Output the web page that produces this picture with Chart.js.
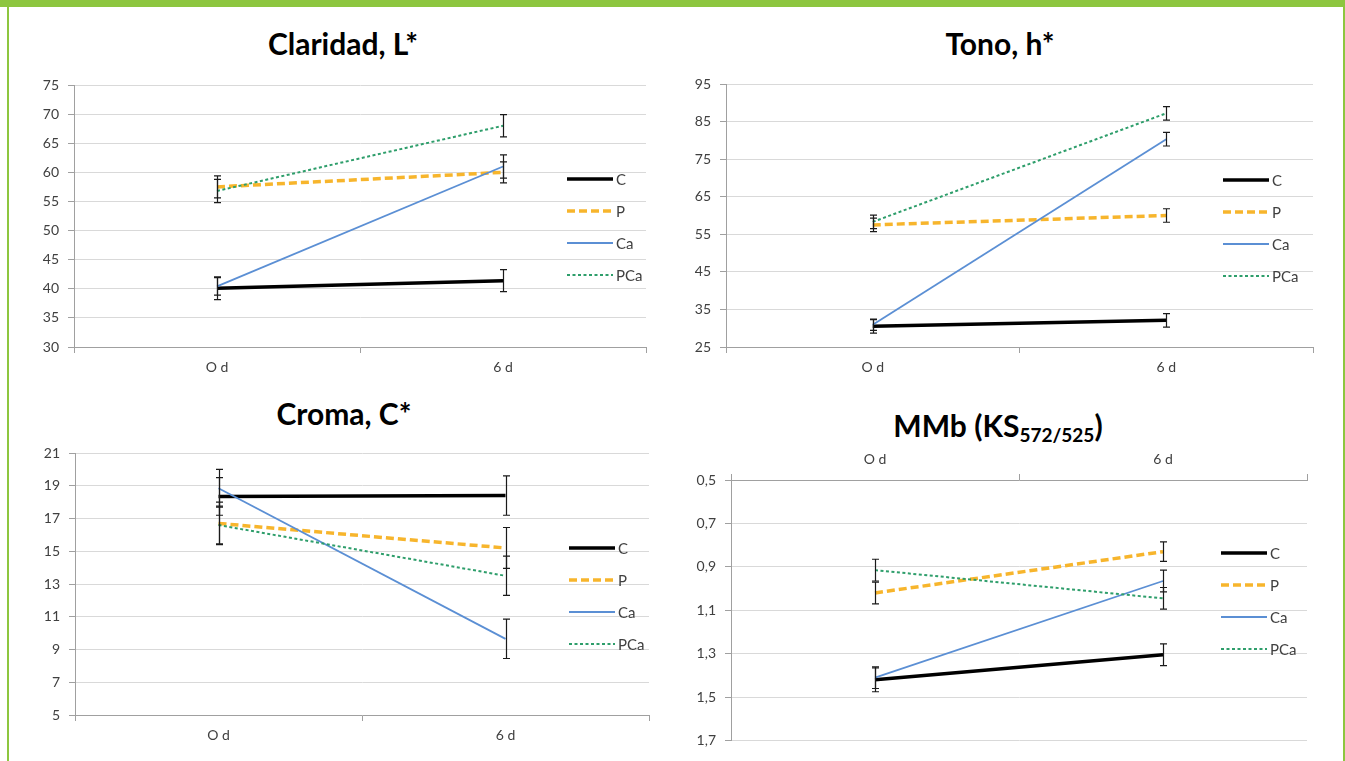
<!DOCTYPE html>
<html>
<head>
  <title>Color parameters</title>
  <script src="https://cdn.jsdelivr.net/npm/chart.js"></script>
  <style>
    body { margin: 0; width: 1345px; height: 761px; background: #fff; position: relative; overflow: hidden; font-family: Lato, sans-serif; }
    .bar { position: absolute; background: #8dc63f; }
    .title { position: absolute; width: 420px; text-align: center; font: bold 30px Lato, sans-serif; line-height: 36px; color: #000; }
    .title sub { font-size: 19px; vertical-align: -5px; line-height: 0; }
    canvas { position: absolute; }
  </style>
</head>
<body>
  <div class="bar" style="left:0; top:0; width:1345px; height:7px;"></div>
  <div class="bar" style="left:7px; top:0; width:2px; height:761px;"></div>
  <div class="bar" style="left:1343px; top:0; width:2px; height:761px;"></div>

  <div class="title" style="left:133px; top:25px;">Claridad, L*</div>
  <div class="title" style="left:790px; top:25px;">Tono, h*</div>
  <div class="title" style="left:134px; top:395px;">Croma, C*</div>
  <div class="title" style="left:788px; top:407px;">MMb (KS<sub>572/525</sub>)</div>

  <canvas id="c1" width="660" height="323" style="left:10px; top:62px;"></canvas>
  <canvas id="c2" width="665" height="323" style="left:675px; top:62px;"></canvas>
  <canvas id="c3" width="660" height="323" style="left:10px; top:435px;"></canvas>
  <canvas id="c4" width="665" height="318" style="left:675px; top:440px;"></canvas>

  <script>
    // categories and series
    const days = ['O d', '6 d'];
    const seriesNames = ['C', 'P', 'Ca', 'PCa'];

    // Claridad, L*
    const lC = [40.1, 41.4],   lCErr = [1.95, 1.9];
    const lP = [57.5, 60.0],   lPErr = [1.9, 1.8];
    const lCa = [40.4, 61.0],  lCaErr = [1.5, 2.0];
    const lPCa = [56.8, 68.0], lPCaErr = [2.0, 1.9];

    // Tono, h*
    const hC = [30.5, 32.1],   hCErr = [1.8, 1.8];
    const hP = [57.5, 60.0],   hPErr = [1.8, 1.8];
    const hCa = [30.9, 80.3],  hCaErr = [1.5, 1.8];
    const hPCa = [58.3, 87.2], hPCaErr = [1.8, 1.8];

    // Croma, C*
    const cC = [18.35, 18.4],  cCErr = [1.15, 1.2];
    const cP = [16.7, 15.2],   cPErr = [1.3, 1.25];
    const cCa = [18.85, 9.65], cCaErr = [1.15, 1.2];
    const cPCa = [16.6, 13.5], cPCaErr = [1.15, 1.2];

    // MMb (KS572/525)
    const mC = [1.42, 1.305],  mCErr = [0.055, 0.05];
    const mP = [1.02, 0.83],   mPErr = [0.05, 0.045];
    const mCa = [1.41, 0.965], mCaErr = [0.05, 0.05];
    const mPCa = [0.915, 1.045], mPCaErr = [0.05, 0.05];

    // line look of each series: C, P, Ca, PCa
    const lineColors = ['#000000', '#f7b52c', '#5b8fd4', '#2e9e6b'];
    const lineWidths = [3.5, 3.5, 1.8, 2];
    const lineDashes = [[], [8, 4], [], [3, 2.5]];

    const tickFont = { family: 'Lato', size: 14 };
    const axisGray = '#a0a0a0';

    // error bars drawn from the y scale
    const errorBars = {
      id: 'errorBars',
      afterDatasetsDraw(chart) {
        const ctx = chart.ctx;
        const yScale = chart.scales.y;
        ctx.save();
        ctx.strokeStyle = '#1a1a1a';
        ctx.lineWidth = 1.2;
        chart.data.datasets.forEach((ds, i) => {
          const meta = chart.getDatasetMeta(i);
          meta.data.forEach((pt, j) => {
            const e = ds.errors[j];
            const y1 = yScale.getPixelForValue(ds.data[j] - e);
            const y2 = yScale.getPixelForValue(ds.data[j] + e);
            const x = Math.round(pt.x) + 0.5;
            ctx.beginPath();
            ctx.moveTo(x, y1); ctx.lineTo(x, y2);
            ctx.moveTo(x - 3.5, y1); ctx.lineTo(x + 3.5, y1);
            ctx.moveTo(x - 3.5, y2); ctx.lineTo(x + 3.5, y2);
            ctx.stroke();
          });
        });
        ctx.restore();
      }
    };

    // legend that sits inside the plot, like the spreadsheet one
    const sideLegend = {
      id: 'sideLegend',
      afterDraw(chart, args, opts) {
        const ctx = chart.ctx;
        ctx.save();
        chart.data.datasets.forEach((ds, i) => {
          const y = opts.y + i * 32;
          ctx.beginPath();
          ctx.setLineDash(ds.borderDash || []);
          ctx.strokeStyle = ds.borderColor;
          ctx.lineWidth = ds.borderWidth;
          ctx.moveTo(opts.x, y);
          ctx.lineTo(opts.x + 46, y);
          ctx.stroke();
          ctx.setLineDash([]);
          ctx.fillStyle = '#404040';
          ctx.font = '15px Lato';
          ctx.textBaseline = 'middle';
          ctx.fillText(ds.label, opts.x + 49, y + 1);
        });
        ctx.restore();
      }
    };

    function makeDatasets(values, errs) {
      return values.map((v, i) => ({
        label: seriesNames[i],
        data: v,
        errors: errs[i],
        borderColor: lineColors[i],
        backgroundColor: lineColors[i],
        borderWidth: lineWidths[i],
        borderDash: lineDashes[i],
        pointRadius: 0,
        tension: 0,
        order: 4 - i
      }));
    }

    // canvas: page rect of the canvas, area: page rect of the plot
    function makeChart(id, canvasBox, area, values, errs, yOpts, xTop, legendPos, fmt) {
      const xHeight = xTop ? area.top - canvasBox.top : canvasBox.bottom - area.bottom;
      new Chart(document.getElementById(id), {
        type: 'line',
        data: { labels: days, datasets: makeDatasets(values, errs) },
        options: {
          responsive: false,
          animation: false,
          devicePixelRatio: 1,
          layout: {
            padding: {
              left: 0,
              right: canvasBox.right - area.right,
              top: xTop ? 0 : area.top - canvasBox.top,
              bottom: xTop ? canvasBox.bottom - area.bottom : 0
            }
          },
          plugins: {
            legend: { display: false },
            tooltip: { enabled: false },
            sideLegend: { x: legendPos[0] - canvasBox.left, y: legendPos[1] - canvasBox.top }
          },
          scales: {
            x: {
              position: xTop ? 'top' : 'bottom',
              offset: true,
              grid: { offset: true, drawOnChartArea: false, drawTicks: true, tickLength: 6, tickColor: axisGray },
              border: { color: axisGray },
              ticks: { font: tickFont, color: '#404040', padding: 6, maxRotation: 0 },
              afterFit(s) { s.height = xHeight; }
            },
            y: {
              min: yOpts.min,
              max: yOpts.max,
              reverse: !!yOpts.reverse,
              grid: { color: '#d9d9d9', tickLength: 6, tickColor: axisGray },
              border: { color: axisGray },
              ticks: {
                stepSize: yOpts.step,
                font: tickFont,
                color: '#404040',
                padding: 9,
                callback: fmt
              },
              afterFit(s) { s.width = area.left - canvasBox.left; }
            }
          }
        },
        plugins: [errorBars, sideLegend]
      });
    }

    const intFmt = v => String(Math.round(v));
    const commaFmt = v => v.toFixed(1).replace('.', ',');

    makeChart('c1', { left: 10, top: 62, right: 670, bottom: 385 },
      { left: 74, top: 85, right: 646, bottom: 347 },
      [lC, lP, lCa, lPCa], [lCErr, lPErr, lCaErr, lPCaErr],
      { min: 30, max: 75, step: 5 }, false, [567, 179], intFmt);

    makeChart('c2', { left: 675, top: 62, right: 1340, bottom: 385 },
      { left: 726, top: 84, right: 1313, bottom: 347 },
      [hC, hP, hCa, hPCa], [hCErr, hPErr, hCaErr, hPCaErr],
      { min: 25, max: 95, step: 10 }, false, [1223, 180], intFmt);

    makeChart('c3', { left: 10, top: 435, right: 670, bottom: 758 },
      { left: 75, top: 453, right: 649, bottom: 715 },
      [cC, cP, cCa, cPCa], [cCErr, cPErr, cCaErr, cPCaErr],
      { min: 5, max: 21, step: 2 }, false, [569, 548], intFmt);

    makeChart('c4', { left: 675, top: 440, right: 1340, bottom: 758 },
      { left: 731, top: 480, right: 1307, bottom: 743 },
      [mC, mP, mCa, mPCa], [mCErr, mPErr, mCaErr, mPCaErr],
      { min: 0.5, max: 1.7, step: 0.2, reverse: true }, true, [1221, 553], commaFmt);
  </script>
</body>
</html>
